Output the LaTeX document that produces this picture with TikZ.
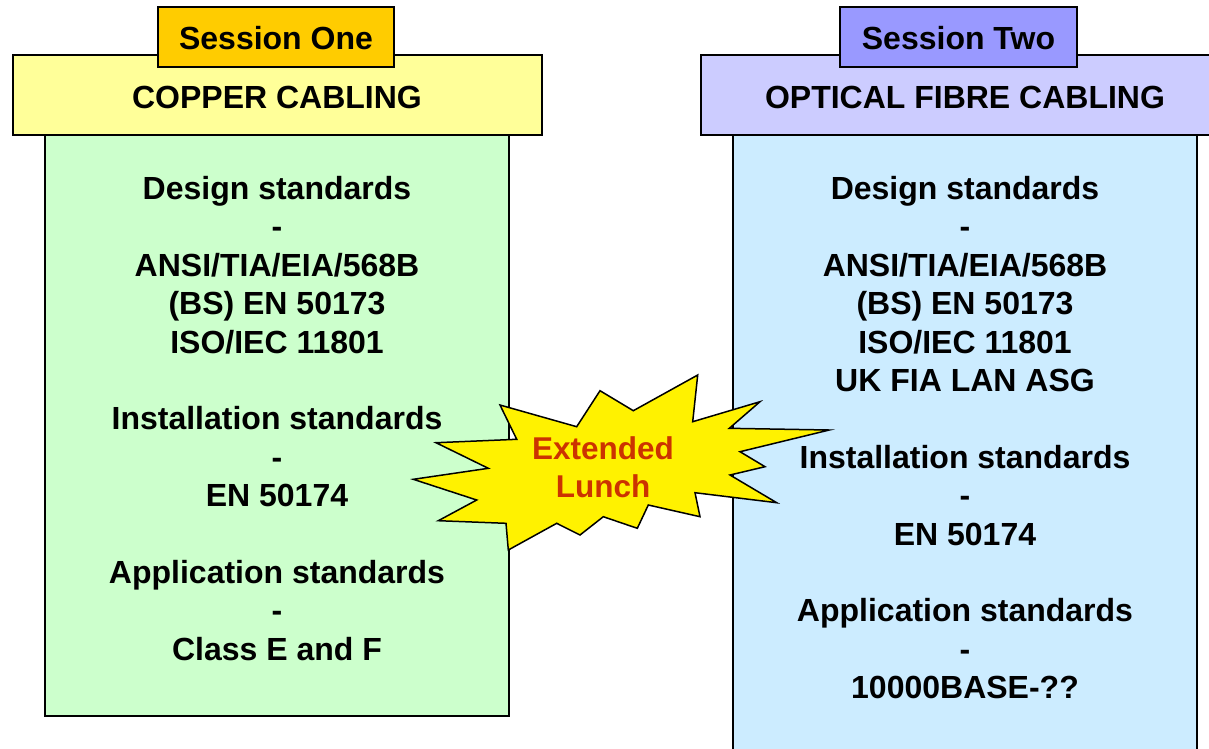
\documentclass[tikz,border=0pt]{standalone}
\usepackage{fontspec}
\setmainfont{Liberation Sans}
\definecolor{tabone}{HTML}{FFCC00}
\definecolor{tabtwo}{HTML}{9999FF}
\definecolor{headone}{HTML}{FFFF99}
\definecolor{headtwo}{HTML}{CCCCFF}
\definecolor{bodyone}{HTML}{CCFFCC}
\definecolor{bodytwo}{HTML}{CCECFF}
\definecolor{lunchred}{HTML}{CC3300}
\tikzset{
  bigfont/.style={font=\fontsize{32}{38.4}\selectfont\bfseries},
  panel/.style={draw=black, line width=2pt},
  headbox/.style={draw=black, line width=1.6pt},
  txt/.style={bigfont, inner sep=0pt, align=center, text=black},
}
\begin{document}
\begin{tikzpicture}[x=1pt,y=-1pt]
\useasboundingbox (0,0) rectangle (1209,748);
% bodies
\path[panel, fill=bodyone] (45,135) rectangle (509,716);
\path[panel, fill=bodytwo] (733,135) rectangle (1197,756);
% headers
\path[headbox, fill=headone] (13,55) rectangle (542,135);
\path[headbox, fill=headtwo] (701,55) rectangle (1214,135);
% tabs
\path[headbox, fill=tabone] (158,7) rectangle (394,67);
\path[headbox, fill=tabtwo] (840,7) rectangle (1077,67);
% tab and header texts
\node[txt, anchor=base] (s1) at (276,49.5) {Session One};
\node[txt, anchor=base] (s2) at (958.5,49.5) {Session Two};
\node[txt, anchor=base] (h1) at (277,108.5) {COPPER CABLING};
\node[txt, anchor=base] (h2) at (965,108.5) {OPTICAL FIBRE CABLING};
% body texts
\node[txt, anchor=north] (b1) at (277,176) {Design standards\\-\\ANSI/TIA/EIA/568B\\(BS) EN 50173\\ISO/IEC 11801\\[38.4pt]Installation standards\\-\\EN 50174\\[38.4pt]Application standards\\-\\Class E and F};
\node[txt, anchor=north] (b2) at (965,176) {Design standards\\-\\ANSI/TIA/EIA/568B\\(BS) EN 50173\\ISO/IEC 11801\\UK FIA LAN ASG\\[38.4pt]Installation standards\\-\\EN 50174\\[38.4pt]Application standards\\-\\10000BASE-??};
% starburst
\draw[fill=yellow, line width=1.5pt, line join=miter]
  (500,405) -- (576.7,426.7) -- (600,390.7) -- (633.3,410.7) -- (697.7,375)
  -- (692.7,421.7) -- (760,401.7) -- (729.3,428.3) -- (829.3,430)
  -- (740,451.7) -- (765,466.7) -- (730,475) -- (776.7,502.7)
  -- (695,492.7) -- (700,516.7) -- (648.3,505) -- (637.3,528.3)
  -- (603.3,516.7) -- (580,535) -- (556.7,523.3) -- (508.3,550)
  -- (506,523.3) -- (438.3,520.7) -- (476.7,500) -- (413.3,479.3)
  -- (488.3,468.3) -- (436,442.7) -- (516.7,439.3) -- cycle;
\node[txt, anchor=north, text=lunchred, font=\fontsize{31.5}{37.5}\selectfont\bfseries] (lunch) at (603,436.5) {Extended\\Lunch};
\end{tikzpicture}
\end{document}
